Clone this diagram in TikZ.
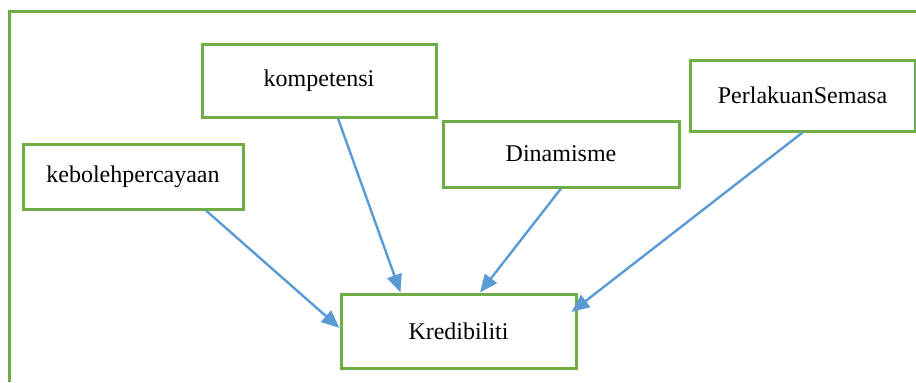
\documentclass[tikz,border=0pt]{standalone}
\usepackage{fontspec}
\setmainfont{Liberation Serif}
\usetikzlibrary{arrows.meta}
\definecolor{boxgreen}{RGB}{112,173,71}
\definecolor{arrblue}{RGB}{91,155,213}
\tikzset{
  kotak/.style={draw=boxgreen, line width=1.5pt, rectangle, font=\fontsize{12}{14}\selectfont},
  panah/.style={draw=arrblue, line width=1.2pt, -{Triangle[length=9pt,width=7.5pt]}}
}
\begin{document}
\begin{tikzpicture}[x=0.5pt,y=-0.5pt]
\useasboundingbox (0,0) rectangle (916,382);
\path[draw=boxgreen,line width=1.5pt] (9,382) -- (9,11) -- (916,11);

\node[kotak, minimum width=117pt, minimum height=36.5pt] (2) at (319,80.5) {kompetensi};
\node[kotak, minimum width=110pt, minimum height=32.5pt] (1) at (133,176.5) {kebolehpercayaan};
\node[kotak, minimum width=118pt, minimum height=33pt] (3) at (561,154) {Dinamisme};
\node[kotak, minimum width=112.5pt, minimum height=35.5pt] (4) at (802.5,95.5) {PerlakuanSemasa};
\node[kotak, minimum width=117.5pt, minimum height=37pt] (k) at (458.5,331) {Kredibiliti};

\path[panah] ([xshift=36.5pt]1.south) -- ([yshift=1.5pt]k.west);
\path[panah] ([xshift=9.5pt]2.south) -- ([xshift=-29pt]k.north);
\path[panah] (3.south) -- ([xshift=10.75pt]k.north);
\path[panah] (4.south) -- ([xshift=-3pt,yshift=9.5pt]k.east);
\end{tikzpicture}
\end{document}
